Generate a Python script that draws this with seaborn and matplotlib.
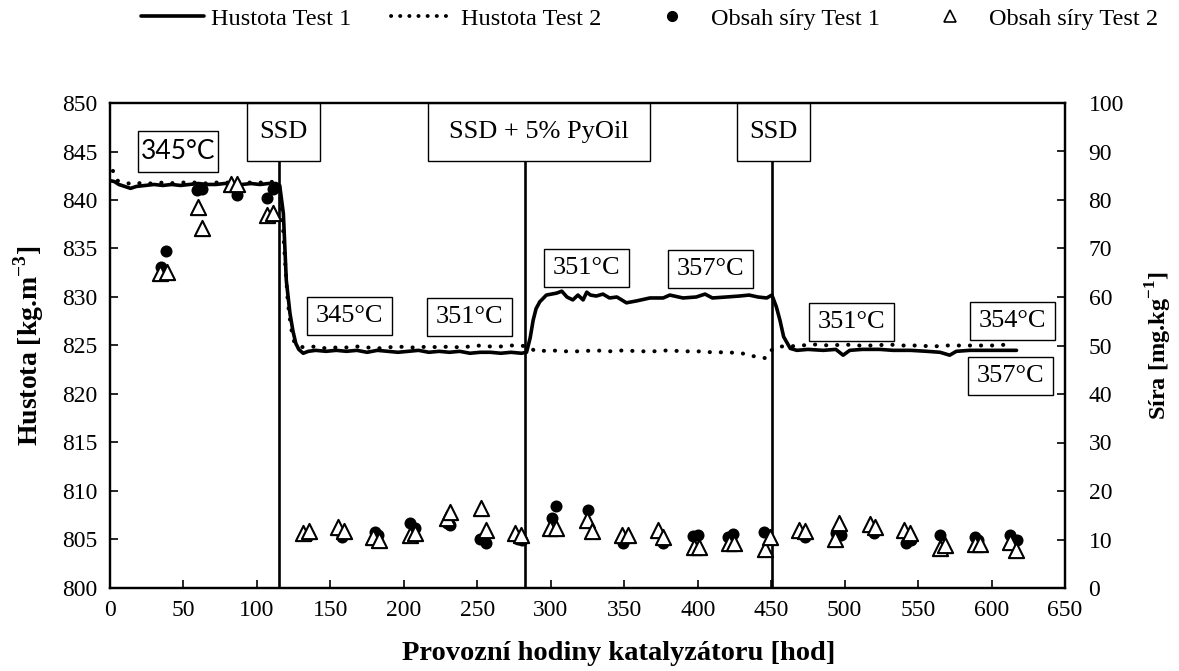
import matplotlib
matplotlib.use("Agg")
import matplotlib.pyplot as plt
import seaborn as sns
from matplotlib.patches import Rectangle
from matplotlib.lines import Line2D

# ---------------- data ----------------
hours_t1 = [0, 3, 6, 10, 14, 18, 24, 30, 36, 42,
            48, 54, 60, 66, 72, 78, 84, 90, 96, 102,
            108, 113, 115.5, 118, 120, 122.5, 124.5, 126.5, 128.5, 131.5,
            135, 140, 147, 154, 161, 168, 175, 182, 189, 196,
            203, 210, 217, 224, 231, 238, 245, 252, 259, 266,
            273, 280, 283.5, 286, 288, 290, 292.5, 297, 304, 307.5,
            311, 315, 318.5, 322, 324.5, 327, 331, 335.5, 340, 345,
            351.5, 358.5, 367.5, 376.5, 381, 390, 399, 405, 410, 419.5,
            428.5, 435, 441, 447, 450.5, 453.5, 456, 458.5, 463, 467.5,
            475, 485.5, 494, 499, 503.5, 512, 524, 533, 545, 556,
            565, 571.5, 576, 585, 595, 605, 617]
density_t1 = [842.0, 841.9, 841.6, 841.4, 841.2, 841.4, 841.5, 841.6, 841.5, 841.6,
              841.5, 841.6, 841.7, 841.6, 841.6, 841.7, 841.7, 841.6, 841.7, 841.6,
              841.7, 841.7, 841.5, 838.6, 831.7, 828.3, 826.5, 825.2, 824.6, 824.2,
              824.4, 824.5, 824.4, 824.5, 824.4, 824.5, 824.3, 824.5, 824.4, 824.3,
              824.4, 824.5, 824.3, 824.4, 824.3, 824.4, 824.2, 824.3, 824.3, 824.2,
              824.3, 824.2, 824.3, 825.8, 827.6, 828.8, 829.5, 830.2, 830.4, 830.6,
              830.0, 829.7, 830.2, 829.7, 830.5, 830.2, 830.1, 830.3, 829.9, 830.0,
              829.4, 829.6, 829.9, 829.9, 830.2, 829.9, 830.0, 830.3, 829.9, 830.0,
              830.1, 830.2, 830.0, 829.9, 830.2, 829.0, 827.6, 825.9, 824.7, 824.5,
              824.6, 824.5, 824.6, 824.0, 824.5, 824.6, 824.6, 824.5, 824.5, 824.4,
              824.3, 824.0, 824.4, 824.5, 824.5, 824.5, 824.5]

hours_t2 = [2, 5, 10, 16, 22, 28, 34, 40, 46, 52, 58,
            64, 70, 76, 82, 88, 94, 100, 106, 112,
            115, 117, 119, 121, 123, 125, 128, 133,
            140, 147, 154, 161, 168, 175, 182, 189, 196, 203, 210,
            217, 224, 231, 238, 245, 252, 259, 266, 273, 280,
            285, 290, 300, 310, 320, 330, 340, 350, 360, 370, 380,
            390, 400, 410, 420, 430, 438, 446, 450, 455, 462,
            470, 480, 490, 500, 510, 520, 530, 540, 550, 560,
            570, 580, 590, 600, 612]
density_t2 = [843.0, 842.0, 841.8, 841.6, 841.8, 841.7, 841.8, 841.7, 841.8, 841.8, 841.8,
              841.7, 841.8, 841.8, 841.8, 841.9, 841.8, 841.8, 841.8, 841.9,
              841.7, 839.0, 834.0, 829.5, 827.0, 825.5, 824.9, 824.8,
              824.9, 824.7, 824.8, 824.8, 824.9, 824.8, 824.7, 824.8, 824.9, 824.8, 824.8,
              824.9, 824.8, 824.9, 824.8, 824.9, 825.0, 824.9, 824.9, 825.0, 825.0,
              824.8, 824.4, 824.5, 824.4, 824.4, 824.5, 824.4, 824.5, 824.4, 824.4, 824.5,
              824.4, 824.4, 824.3, 824.3, 824.2, 823.9, 823.7, 824.5, 824.9, 824.9,
              825.0, 825.1, 825.0, 825.1, 825.0, 825.0, 825.1, 825.0, 825.0, 824.9,
              825.0, 825.0, 825.0, 825.0, 825.1]

sulfur_t1_hours = [34.7, 38.1, 58.9, 62.3, 86.6, 106.9, 110.7,
                   135.5, 157.7, 180.4, 182.6, 204.2, 207.6, 229.2, 231.5, 251.9, 255.8,
                   278.0, 280.2, 300.6, 303.6, 325.0, 349.0, 376.2, 397.1, 400.5, 420.9,
                   424.3, 445.2, 473.1, 494.0, 497.4, 520.3, 541.7, 545.0, 565.0, 588.8,
                   591.0, 612.6, 617.1]
sulfur_t1 = [66.2, 69.5, 82.1, 82.2, 81.0, 80.5, 82.2,
             10.9, 10.6, 11.6, 10.9, 13.5, 12.3, 13.3, 13.0, 10.2, 9.2,
             10.2, 9.9, 14.4, 16.9, 16.1, 9.2, 9.3, 10.7, 10.9, 10.6,
             11.1, 11.6, 10.5, 11.4, 10.9, 11.3, 9.3, 9.9, 10.9, 10.5,
             9.9, 10.9, 9.9]

sulfur_t2_hours = [34.0, 38.5, 60.0, 62.3, 82.6, 86.6, 106.9, 110.7,
                   131.4, 135.5, 155.5, 159.3, 179.3, 183.3, 204.2, 207.6, 229.2, 231.5,
                   252.3, 256.0, 275.7, 279.6, 299.5, 303.6, 324.5, 327.9, 348.3, 352.8,
                   373.3, 376.6, 397.5, 401.1, 421.6, 424.8, 445.9, 449.3, 469.2, 473.1,
                   493.6, 496.4, 517.0, 521.0, 540.6, 544.6, 565.0, 568.6, 588.8, 592.4,
                   612.6, 616.4]
sulfur_t2 = [64.9, 65.2, 78.6, 74.2, 83.4, 83.4, 76.9, 77.3,
             11.3, 11.8, 12.6, 11.7, 10.6, 9.9, 10.9, 11.3, 14.4, 15.7,
             16.4, 12.0, 11.3, 10.9, 12.3, 12.3, 14.0, 11.8, 10.9, 10.9,
             12.0, 10.6, 8.5, 8.5, 9.2, 9.3, 8.0, 10.6, 12.0, 11.8,
             10.2, 13.5, 13.2, 12.5, 12.0, 11.4, 8.2, 8.9, 9.1, 9.1,
             9.5, 7.8]

x_ticks = list(range(0, 651, 50))
density_ticks = list(range(800, 851, 5))
sulfur_ticks = list(range(0, 101, 10))

series_labels = ["Hustota Test 1", "Hustota Test 2", "Obsah síry Test 1", "Obsah síry Test 2"]

switch_hours = [115, 282.5, 450.5]
phase_labels = ["SSD", "SSD + 5% PyOil", "SSD"]
phase_centers = [117.9, 292.0, 451.7]
phase_widths_px = [73, 222, 73]

temp_labels = ["345°C", "345°C", "351°C", "351°C", "357°C", "351°C", "354°C", "357°C"]
temp_x = [46.3, 162.7, 245.0, 324.0, 409.0, 504.9, 614.3, 613.2]
temp_y = [845.0, 828.0, 827.9, 833.0, 832.9, 827.4, 827.5, 821.9]

# ---------------- style ----------------
sns.set_theme(style="white", rc={
    "axes.edgecolor": "black", "xtick.color": "black", "ytick.color": "black",
    "text.color": "black", "axes.labelcolor": "black",
})
plt.rcParams["font.family"] = ["Liberation Serif", "DejaVu Serif"]
plt.rcParams["mathtext.fontset"] = "custom"
plt.rcParams["mathtext.rm"] = "Liberation Serif"
plt.rcParams["mathtext.bf"] = "Liberation Serif:bold"

W_IN, H_IN, DPI = 11.79, 6.71, 100
L, B, AW, AH = 110 / 1179, 1 - 588 / 671, 955 / 1179, 485 / 671

fig = plt.figure(figsize=(W_IN, H_IN), dpi=DPI)
ax = fig.add_axes([L, B, AW, AH])
ax2 = ax.twinx()

PX_X = AW * W_IN * DPI / 650.0
PX_Y = AH * H_IN * DPI / 50.0

# density lines
sns.lineplot(x=hours_t1, y=density_t1, ax=ax, color="black", linewidth=2.6,
             sort=False, zorder=4)
sns.lineplot(x=hours_t2, y=density_t2, ax=ax, color="black", linewidth=2.9,
             linestyle=(0, (0.05, 2.7)), dash_capstyle="round", sort=False, zorder=4)

# sulfur points
sns.scatterplot(x=sulfur_t1_hours, y=sulfur_t1, ax=ax2, marker="o", s=75,
                color="black", edgecolor="black", linewidth=0, zorder=5)
sns.scatterplot(x=sulfur_t2_hours, y=sulfur_t2, ax=ax2, marker="^", s=120,
                color="white", edgecolor="black", linewidth=1.5, zorder=6)

# vertical switch lines
ax.vlines(switch_hours, 800, 844.0, colors="black", linewidth=1.9, zorder=3)


def draw_box(xc, yc, wpx, hpx, txt, size=19, family=None):
    w = wpx / PX_X
    h = hpx / PX_Y
    ax.add_patch(Rectangle((xc - w / 2, yc - h / 2), w, h, facecolor="white",
                           edgecolor="black", linewidth=1.0, zorder=7, clip_on=False))
    kw = {}
    if family is not None:
        kw["family"] = family
    ax.text(xc, yc, txt, ha="center", va="center", fontsize=size, zorder=8, **kw)


for lab, xc, wpx in zip(phase_labels, phase_centers, phase_widths_px):
    draw_box(xc, 850 - 29 / PX_Y, wpx, 58, lab)

for i, (lab, xc, yc) in enumerate(zip(temp_labels, temp_x, temp_y)):
    if i == 0:
        draw_box(xc, yc, 80, 41, lab, family=["Lato", "DejaVu Sans"])
    else:
        draw_box(xc, yc, 85, 38, lab)

# axes
ax.set_xlim(0, 650)
ax.set_ylim(800, 850)
ax2.set_ylim(0, 100)
ax.set_xticks(x_ticks)
ax.set_yticks(density_ticks)
ax2.set_yticks(sulfur_ticks)

for a in (ax, ax2):
    for sp in a.spines.values():
        sp.set_color("black")
        sp.set_linewidth(1.6)
ax.tick_params(axis="both", direction="in", length=6, width=1.2, labelsize=17,
               bottom=True, left=True, top=False, right=False, pad=9)
ax2.tick_params(axis="y", direction="in", length=6, width=1.2, labelsize=17,
                right=True, pad=17)
for lbl in ax2.get_yticklabels():
    lbl.set_horizontalalignment("left")

ax.set_xlabel("Provozní hodiny katalyzátoru [hod]", fontsize=20.5, fontweight="bold")
ax.set_ylabel(r"Hustota [kg.m$^{\mathbf{-3}}$]", fontsize=20, fontweight="bold")
ax2.set_ylabel(r"Síra [mg.kg$^{\mathbf{-1}}$]", fontsize=17.5, fontweight="bold")
ax.xaxis.set_label_coords((619 - 110) / 955, -0.11)
ax.yaxis.set_label_coords(-0.067, 0.5)
ax2.yaxis.set_label_coords(1.082, 0.5)

# legend
handles = [
    Line2D([], [], color="black", linewidth=2.6),
    Line2D([], [], color="black", linewidth=2.8, linestyle=(0, (0.05, 2.3)),
           dash_capstyle="round"),
    Line2D([], [], color="black", marker="o", linestyle="", markersize=7),
    Line2D([], [], color="black", marker="^", linestyle="", markersize=8,
           markerfacecolor="white", markeredgewidth=1.2),
]
fig.legend(handles, series_labels, loc="center", bbox_to_anchor=(0.551, 0.972),
           ncol=4, frameon=False, fontsize=17.5, handlelength=2.6, handletextpad=0.3,
           columnspacing=1.6)

fig.savefig("out.png", dpi=DPI)
